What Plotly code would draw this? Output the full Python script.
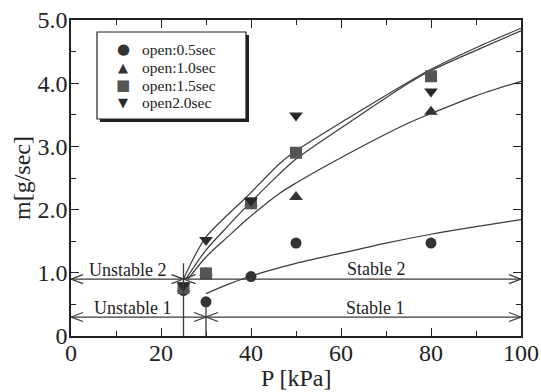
import plotly.graph_objects as go

# ---- data ----
P = [25, 30, 40, 50, 80]
m_05 = [0.72, 0.54, 0.94, 1.47, 1.47]
m_10 = [0.75, 1.00, 2.10, 2.20, 3.55]
m_15 = [0.76, 0.99, 2.10, 2.90, 4.11]
m_20 = [0.80, 1.52, 2.14, 3.49, 3.87]

fit05_P = [30, 35, 40, 50, 60, 70, 80, 90, 100]
fit05_m = [0.67, 0.82, 0.95, 1.15, 1.31, 1.47, 1.61, 1.73, 1.84]
fit10_P = [26, 30, 35, 39, 46.4, 50, 61, 75, 80, 90, 100]
fit10_m = [0.90, 1.25, 1.58, 1.84, 2.26, 2.42, 2.86, 3.37, 3.52, 3.80, 4.03]
fit15_P = [25.5, 30, 35, 39, 46.4, 50, 61, 75, 80, 90, 100]
fit15_m = [0.90, 1.36, 1.75, 2.05, 2.57, 2.80, 3.34, 4.00, 4.20, 4.52, 4.83]
fit20_P = [25, 27, 30, 35, 39, 46.4, 50, 61, 75, 80, 90, 100]
fit20_m = [0.90, 1.20, 1.57, 1.93, 2.20, 2.73, 2.93, 3.42, 4.02, 4.22, 4.56, 4.87]

series_names = ["open:0.5sec", "open:1.0sec", "open:1.5sec", "open2.0sec"]
region_labels = ["Unstable 2", "Stable 2", "Unstable 1", "Stable 1"]
x_title = "P [kPa]"
y_title = "m[g/sec]"
level2, level1 = 0.9, 0.3
P_crit2, P_crit1 = 25, 30
P_min, P_max = 0, 100

FONT = "Liberation Serif"
LINE = "#3a3a3a"
TXT = "#222222"

# plot-area geometry (px) used to place layout items
L, R, T, B = 71, 20, 20, 56
W, H = 541, 392
PW, PH = W - L - R, H - T - B
def px2paper_x(px): return (px - L) / PW
def px2paper_y(py): return (H - B - py) / PH

fig = go.Figure()

for fx, fy in [(fit05_P, fit05_m), (fit10_P, fit10_m), (fit15_P, fit15_m), (fit20_P, fit20_m)]:
    fig.add_trace(go.Scatter(x=fx, y=fy, mode="lines", showlegend=False,
                             line=dict(color=LINE, width=1.2, shape="spline", smoothing=0.8),
                             hoverinfo="skip"))

styles = [("circle", 11, "#333333"), ("triangle-up", 12, "#333333"),
          ("square", 12, "#555555"), ("triangle-down", 12, "#2a2a2a")]
for name, ys, (sym, sz, col) in zip(series_names, [m_05, m_10, m_15, m_20], styles):
    fig.add_trace(go.Scatter(x=P, y=ys, mode="markers", name=name, showlegend=False,
                             marker=dict(symbol=sym, size=sz, color=col, line=dict(width=0))))

# region lines
shapes = []
def hline(x0, x1, y):
    shapes.append(dict(type="line", xref="x", yref="y", x0=x0, x1=x1, y0=y, y1=y,
                       line=dict(color=LINE, width=1.3)))
def vhead(x, y, d):
    hl = 12 / (PW / (P_max - P_min))
    hh = 4.5 / (PH / 5)
    shapes.append(dict(type="path", xref="x", yref="y",
                       path=f"M {x - d*hl},{y + hh} L {x},{y} L {x - d*hl},{y - hh}",
                       line=dict(color=LINE, width=1.2)))

hline(P_min, P_crit2, level2); vhead(P_min, level2, -1); vhead(P_crit2, level2, 1)
hline(P_crit2, P_max, level2); vhead(P_crit2, level2, -1); vhead(P_max, level2, 1)
hline(P_min, P_crit1, level1); vhead(P_min, level1, -1); vhead(P_crit1, level1, 1)
hline(P_crit1, P_max, level1); vhead(P_crit1, level1, -1); vhead(P_max, level1, 1)
shapes.append(dict(type="line", xref="x", yref="y", x0=P_crit2, x1=P_crit2, y0=0, y1=1.15,
                   line=dict(color=LINE, width=1.3)))
shapes.append(dict(type="line", xref="x", yref="y", x0=P_crit1, x1=P_crit1, y0=0, y1=m_05[1],
                   line=dict(color=LINE, width=1.3)))

# legend box with drop shadow
bx0, bx1, by0, by1 = 97, 246, 32, 119
shapes.append(dict(type="rect", xref="paper", yref="paper",
                   x0=px2paper_x(bx0 + 3), x1=px2paper_x(bx1 + 3),
                   y0=px2paper_y(by1 + 3), y1=px2paper_y(by0 + 3),
                   fillcolor="#222222", line=dict(width=0), layer="above"))
shapes.append(dict(type="rect", xref="paper", yref="paper",
                   x0=px2paper_x(bx0), x1=px2paper_x(bx1),
                   y0=px2paper_y(by1), y1=px2paper_y(by0),
                   fillcolor="white", line=dict(color="#222222", width=1.2), layer="above"))

annotations = []
for txt, x, y in [(region_labels[0], 12.6, 1.04), (region_labels[1], 67.9, 1.06),
                  (region_labels[2], 13.7, 0.45), (region_labels[3], 67.7, 0.45)]:
    annotations.append(dict(x=x, y=y, xref="x", yref="y", text=txt, showarrow=False,
                            font=dict(family=FONT, size=18, color=TXT)))

# legend entries (glyph + label)
glyphs = [("●", 15, "#333333"), ("▲", 13, "#333333"), ("■", 15, "#555555"), ("▼", 13, "#2a2a2a")]
item_y = [49, 67, 85, 103]
for (g, gs, gc), name, py in zip(glyphs, series_names, item_y):
    annotations.append(dict(x=px2paper_x(123), y=px2paper_y(py), xref="paper", yref="paper",
                            text=g, showarrow=False, xanchor="center", yanchor="middle",
                            font=dict(family="DejaVu Sans", size=gs, color=gc)))
    annotations.append(dict(x=px2paper_x(140), y=px2paper_y(py), xref="paper", yref="paper",
                            text=name, showarrow=False, xanchor="left", yanchor="middle",
                            font=dict(family=FONT, size=15.5, color=TXT)))

# axis titles
annotations.append(dict(x=0.5, y=px2paper_y(378), xref="paper", yref="paper", text=x_title,
                        showarrow=False, xanchor="center", yanchor="middle",
                        font=dict(family=FONT, size=24, color=TXT)))
annotations.append(dict(x=px2paper_x(22), y=0.5, xref="paper", yref="paper", text=y_title,
                        showarrow=False, xanchor="center", yanchor="middle", textangle=-90,
                        font=dict(family=FONT, size=24, color=TXT)))

axis_common = dict(showline=True, linecolor=TXT, linewidth=1.5, mirror="ticks",
                   ticks="inside", ticklen=8, tickwidth=1.2, tickcolor=TXT,
                   showgrid=False, zeroline=False, automargin=False,
                   tickfont=dict(family=FONT, size=24, color=TXT))

fig.update_layout(
    width=W, height=H,
    margin=dict(l=L, r=R, t=T, b=B),
    paper_bgcolor="white", plot_bgcolor="white",
    shapes=shapes, annotations=annotations,
    showlegend=False,
    xaxis=dict(range=[P_min, P_max], tickvals=[0, 20, 40, 60, 80, 100],
               minor=dict(dtick=10, ticks="inside", ticklen=5, tickcolor=TXT),
               ticklabelstandoff=-6, **axis_common),
    yaxis=dict(range=[0, 5], tickvals=[0, 1, 2, 3, 4, 5],
               ticktext=["0", "1.0", "2.0", "3.0", "4.0", "5.0"],
               minor=dict(dtick=0.5, ticks="inside", ticklen=5, tickcolor=TXT),
               ticklabelstandoff=-3, **axis_common),
)

fig.write_html("out.html", config={"displayModeBar": False},
               post_script="document.body.style.margin='0';")
